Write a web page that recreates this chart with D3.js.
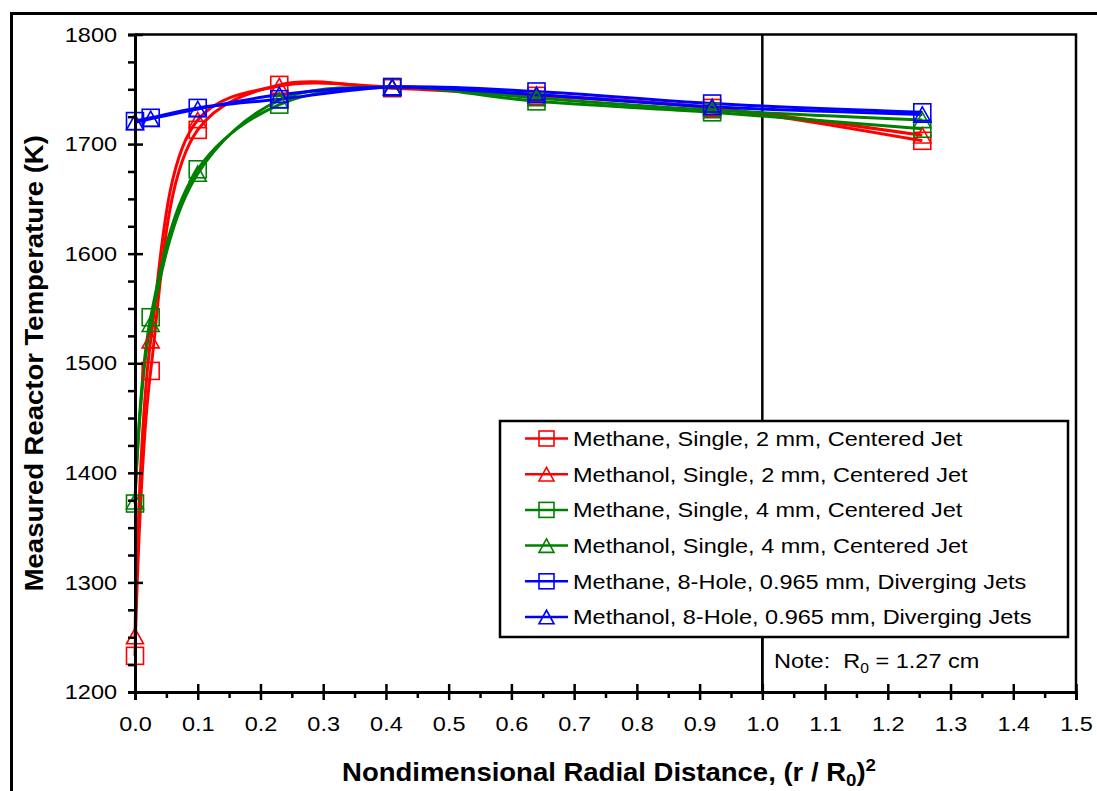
<!DOCTYPE html>
<html>
<head>
<meta charset="utf-8">
<script src="https://cdn.jsdelivr.net/npm/d3@7"></script>
<style>
  body { margin: 0; background: #fff; }
  svg { display: block; font-family: "Liberation Sans", Arial, sans-serif; }
</style>
</head>
<body>
<svg id="svg" width="1097" height="791"></svg>
<script>
// radial positions, (r/R0)^2
const xPos = [0, 0.025, 0.1, 0.23, 0.41, 0.64, 0.92, 1.255];

// measured temperatures (K)
const methaneSingle2 = [1233, 1493, 1713, 1754, 1751, 1744, 1733, 1703];
const methanolSingle2 = [1251, 1521, 1722, 1753, 1752, 1745, 1733, 1708];
const methaneSingle4 = [1372, 1542, 1677, 1736, 1752, 1739, 1729, 1714];
const methanolSingle4 = [1374, 1536, 1673, 1740, 1752, 1742, 1731, 1722];
const methane8Hole = [1721, 1724, 1733, 1741, 1752, 1748, 1737, 1729];
const methanol8Hole = [1720, 1723, 1732, 1745, 1752, 1745, 1734, 1727];

const seriesNames = [
  "Methane, Single, 2 mm, Centered Jet",
  "Methanol, Single, 2 mm, Centered Jet",
  "Methane, Single, 4 mm, Centered Jet",
  "Methanol, Single, 4 mm, Centered Jet",
  "Methane, 8-Hole, 0.965 mm, Diverging Jets",
  "Methanol, 8-Hole, 0.965 mm, Diverging Jets"
];
const seriesColors = ["#ff0000", "#ff0000", "#008000", "#008000", "#0000ff", "#0000ff"];
const seriesMarkers = ["square", "triangle", "square", "triangle", "square", "triangle"];
const seriesValues = [methaneSingle2, methanolSingle2, methaneSingle4, methanolSingle4, methane8Hole, methanol8Hole];

const xTicks = [0, 0.1, 0.2, 0.3, 0.4, 0.5, 0.6, 0.7, 0.8, 0.9, 1.0, 1.1, 1.2, 1.3, 1.4, 1.5];
const xMinor = [0.05, 0.15, 0.25, 0.35, 0.45, 0.55, 0.65, 0.75, 0.85, 0.95, 1.05, 1.15, 1.25, 1.35, 1.45];
const yTicks = [1200, 1300, 1400, 1500, 1600, 1700, 1800];
const yMinor = d3.range(1200, 1801, 25).filter(v => v % 100 !== 0);

const svg = d3.select("#svg");
const plot = {left: 135, right: 1076, top: 34.5, bottom: 692};
const stretch = "scale(1.12,1)"; // the original text is rendered a bit wide

const x = d3.scaleLinear().domain([0, 1.5]).range([plot.left, plot.right]);
const y = d3.scaleLinear().domain([1200, 1800]).range([plot.bottom, plot.top]);

// outer border (cropped at right and bottom)
svg.append("path")
    .attr("d", "M11.5,791 V13.5 H1097")
    .attr("fill", "none")
    .attr("stroke", "#000")
    .attr("stroke-width", 3);

// plot frame (top and right)
svg.append("path")
    .attr("d", `M${plot.left},${plot.top} H${plot.right} V${plot.bottom}`)
    .attr("fill", "none")
    .attr("stroke", "#000")
    .attr("stroke-width", 2.5);

// vertical reference line at 1.0
svg.append("line")
    .attr("x1", x(1)).attr("x2", x(1))
    .attr("y1", plot.top).attr("y2", plot.bottom)
    .attr("stroke", "#000")
    .attr("stroke-width", 2.5);

// series lines
const line = d3.line()
    .x((d, i) => x(xPos[i]))
    .y(d => y(d))
    .curve(d3.curveCatmullRom.alpha(0.5));

const g = svg.append("g");
seriesValues.forEach((vals, s) => {
  g.append("path")
      .attr("d", line(vals))
      .attr("fill", "none")
      .attr("stroke", seriesColors[s])
      .attr("stroke-width", 3);
});

function drawMarker(sel, type, cx, cy, size, color, sw) {
  if (type === "square") {
    sel.append("rect")
        .attr("x", cx - size / 2).attr("y", cy - size / 2)
        .attr("width", size).attr("height", size)
        .attr("fill", "none")
        .attr("stroke", color)
        .attr("stroke-width", sw);
  } else {
    const h = size * 0.9;
    sel.append("path")
        .attr("d", `M${cx},${cy - h / 2} L${cx + size / 2},${cy + h / 2} L${cx - size / 2},${cy + h / 2} Z`)
        .attr("fill", "none")
        .attr("stroke", color)
        .attr("stroke-width", sw);
  }
}

seriesValues.forEach((vals, s) => {
  vals.forEach((v, i) => {
    drawMarker(g, seriesMarkers[s], x(xPos[i]), y(v), 17, seriesColors[s], 1.6);
  });
});

// axes
const xAxisMinor = svg.append("g")
    .attr("transform", `translate(0,${plot.bottom})`)
    .call(d3.axisBottom(x).tickValues(xMinor).tickSize(6).tickFormat(""));
xAxisMinor.select(".domain").remove();
xAxisMinor.selectAll("line").attr("stroke-width", 2.5);

const xAxis = svg.append("g")
    .attr("transform", `translate(0,${plot.bottom})`)
    .call(d3.axisBottom(x).tickValues(xTicks).tickSizeOuter(0).tickSize(8).tickPadding(16).tickFormat(d3.format(".1f")));
xAxis.select(".domain").attr("stroke-width", 3);
xAxis.selectAll(".tick line").attr("y1", -8).attr("stroke-width", 2.5);
xAxis.selectAll("text")
    .attr("font-size", 21).attr("font-family", "Liberation Sans, Arial, sans-serif").attr("fill", "#000")
    .attr("transform", stretch);

const yAxisMinor = svg.append("g")
    .attr("transform", `translate(${plot.left},0)`)
    .call(d3.axisLeft(y).tickValues(yMinor).tickSize(7).tickFormat(""));
yAxisMinor.select(".domain").remove();
yAxisMinor.selectAll("line").attr("stroke-width", 2.5);

const yAxis = svg.append("g")
    .attr("transform", `translate(${plot.left},0)`)
    .call(d3.axisLeft(y).tickValues(yTicks).tickSizeOuter(0).tickSize(7).tickPadding(9).tickFormat(d3.format("d")));
yAxis.select(".domain").attr("stroke-width", 3);
yAxis.selectAll(".tick line").attr("x1", 8).attr("stroke-width", 2.5);
yAxis.selectAll("text")
    .attr("font-size", 21).attr("font-family", "Liberation Sans, Arial, sans-serif").attr("fill", "#000")
    .attr("transform", stretch);

// axis titles
const xt = svg.append("text")
    .attr("transform", "translate(609,781) scale(1.1,1)")
    .attr("text-anchor", "middle")
    .attr("font-size", 25).attr("font-weight", "bold");
xt.append("tspan").text("Nondimensional Radial Distance, (r / R");
xt.append("tspan").attr("font-size", 17).attr("dy", 5).text("0");
xt.append("tspan").attr("dy", -5).text(")");
xt.append("tspan").attr("font-size", 17).attr("dy", -10).text("2");

svg.append("text")
    .attr("transform", `translate(43,${(plot.top + plot.bottom) / 2}) rotate(-90) scale(1.1,1)`)
    .attr("text-anchor", "middle")
    .attr("font-size", 25).attr("font-weight", "bold")
    .text("Measured Reactor Temperature (K)");

// legend
const leg = {x: 500, y: 421, w: 568, h: 216};
svg.append("rect")
    .attr("x", leg.x).attr("y", leg.y)
    .attr("width", leg.w).attr("height", leg.h)
    .attr("fill", "#fff")
    .attr("stroke", "#000")
    .attr("stroke-width", 2.5);

const rows = svg.append("g");
seriesNames.forEach((name, s) => {
  const ry = leg.y + 17.5 + s * 35.7;
  rows.append("line")
      .attr("x1", 525).attr("x2", 568)
      .attr("y1", ry).attr("y2", ry)
      .attr("stroke", seriesColors[s])
      .attr("stroke-width", 2.5);
  drawMarker(rows, seriesMarkers[s], 546.5, ry, 15, seriesColors[s], 1.6);
  rows.append("text")
      .attr("transform", `translate(573,${ry}) ${stretch}`)
      .attr("dy", "0.35em")
      .attr("font-size", 21)
      .text(name);
});

// note box
svg.append("path")
    .attr("d", `M${x(1)},${leg.y + leg.h} V${plot.bottom}`)
    .attr("stroke", "#000").attr("stroke-width", 2.5);
const note = svg.append("text")
    .attr("transform", `translate(774,668) ${stretch}`)
    .attr("font-size", 21);
note.append("tspan").text("Note:\u00a0 R");
note.append("tspan").attr("font-size", 14).attr("dy", 5).text("0");
note.append("tspan").attr("dy", -5).text(" = 1.27 cm");
</script>
</body>
</html>
